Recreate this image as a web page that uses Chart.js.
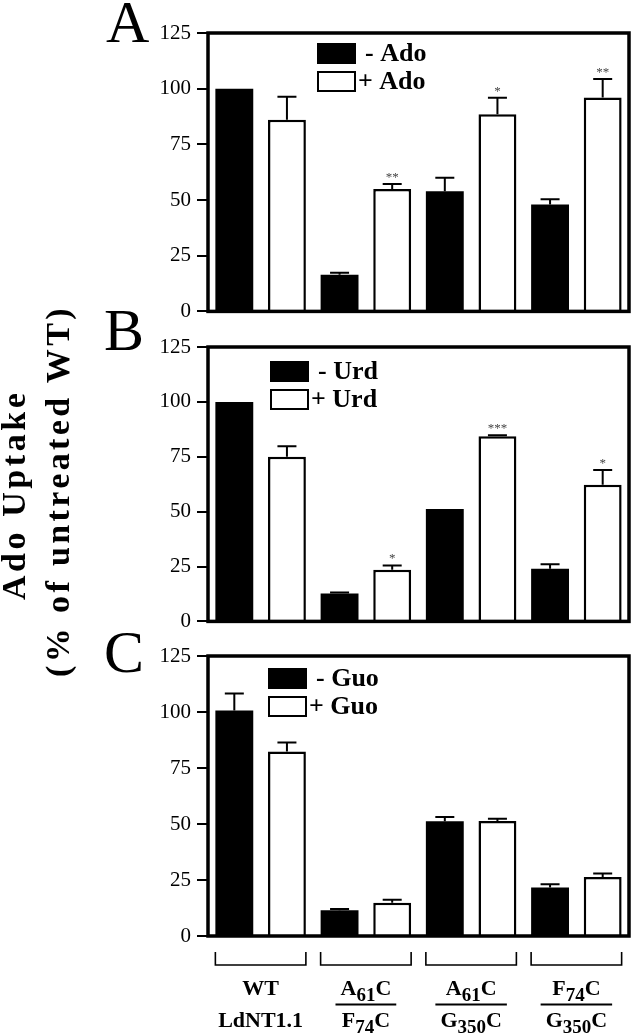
<!DOCTYPE html>
<html>
<head>
<meta charset="utf-8">
<script src="https://cdn.jsdelivr.net/npm/chart.js@4.4.0/dist/chart.umd.min.js"></script>
<style>
  html, body { margin: 0; padding: 0; background: #fff; }
  #page { position: relative; width: 633px; height: 1033px; overflow: hidden; }
  canvas { position: absolute; left: 0; }
  .ytitle {
    position: absolute; white-space: nowrap; line-height: 1; color: #000;
    font: bold 34px "Liberation Serif", "Times New Roman", serif;
    transform-origin: 0 0; transform: rotate(-90deg);
  }
</style>
</head>
<body>
<div id="page">
  <canvas id="chartA" width="633" height="330" style="top:0px"></canvas>
  <canvas id="chartB" width="633" height="335" style="top:305px"></canvas>
  <canvas id="chartC" width="633" height="413" style="top:620px"></canvas>
  <div class="ytitle" data-len="207" style="left:-5px; top:600px">Ado Uptake</div>
  <div class="ytitle" data-len="369" style="left:39px; top:677px">(% of untreated WT)</div>
</div>
<script>
// categories: "top|bottom", {..} = subscript
const groups = ['WT|LdNT1.1', 'A{61}C|F{74}C', 'A{61}C|G{350}C', 'F{74}C|G{350}C'];

// panel A - adenosine
const adoMinus = [100, 16.5, 54, 48];
const adoMinusErr = [0, 0.8, 6, 2.4];
const adoPlus = [86, 55, 88.5, 96];
const adoPlusErr = [10.4, 2.2, 7.4, 8.4];
const adoStars = ['', '**', '*', '**'];

// panel B - uridine
const urdMinus = [100, 12.7, 51.2, 24];
const urdMinusErr = [0, 0.5, 0, 2];
const urdPlus = [75, 23.5, 84.3, 62.3];
const urdPlusErr = [4.8, 2, 0.5, 6.7];
const urdStars = ['', '*', '***', '*'];

// panel C - guanosine
const guoMinus = [100.7, 11.5, 51.2, 21.6];
const guoMinusErr = [7.6, 0.6, 1.9, 1.5];
const guoPlus = [82.4, 14.8, 51.3, 26.3];
const guoPlusErr = [4, 1.4, 1, 1.6];
const guoStars = ['', '', '', ''];

const yTicks = [0, 25, 50, 75, 100, 125];

const SERIF = '"Liberation Serif", "Times New Roman", serif';

// stretch the rotated axis title to the length it has in the figure
document.querySelectorAll('.ytitle').forEach(el => {
  const n = el.textContent.length;
  const w = el.offsetWidth;
  el.style.letterSpacing = ((+el.dataset.len - w) / (n - 1)) + 'px';
});

const frame = {
  id: 'frame',
  afterDatasetsDraw(chart) {
    const { ctx, chartArea: a } = chart;
    ctx.save();
    ctx.strokeStyle = '#000';
    ctx.lineWidth = 3.5;
    ctx.strokeRect(a.left, a.top, a.right - a.left, a.bottom - a.top);
    ctx.restore();
  }
};

const errorBars = {
  id: 'errorBars',
  afterDatasetsDraw(chart) {
    const ctx = chart.ctx, y = chart.scales.y;
    ctx.save();
    chart.data.datasets.forEach((ds, i) => {
      chart.getDatasetMeta(i).data.forEach((bar, j) => {
        const e = ds.errors[j];
        const top = y.getPixelForValue(ds.data[j] + e);
        if (e > 0) {
          ctx.strokeStyle = '#000';
          ctx.lineWidth = 2;
          ctx.beginPath();
          ctx.moveTo(bar.x, bar.y);
          ctx.lineTo(bar.x, top);
          ctx.moveTo(bar.x - 9.5, top);
          ctx.lineTo(bar.x + 9.5, top);
          ctx.stroke();
        }
        const s = ds.stars && ds.stars[j];
        if (s) {
          ctx.fillStyle = '#444';
          ctx.font = '13px ' + SERIF;
          ctx.textAlign = 'center';
          ctx.textBaseline = 'alphabetic';
          ctx.fillText(s, bar.x, top - 3);
        }
      });
    });
    ctx.restore();
  }
};

const boxLegend = {
  id: 'boxLegend',
  afterDraw(chart, args, opts) {
    const { ctx, chartArea: a } = chart;
    ctx.save();
    chart.data.datasets.forEach((ds, i) => {
      const x = a.left + opts.x, y = a.top + opts.y + i * 28;
      ctx.fillStyle = ds.backgroundColor;
      ctx.fillRect(x, y, 39, 21);
      ctx.strokeStyle = '#000';
      ctx.lineWidth = 2;
      ctx.strokeRect(x + 1, y + 1, 37, 19);
      ctx.fillStyle = '#000';
      ctx.font = 'bold 26px ' + SERIF;
      ctx.textAlign = 'left';
      ctx.textBaseline = 'middle';
      ctx.fillText(ds.label, x + 39 + opts.gap[i], y + 11);
    });
    ctx.restore();
  }
};

const panelLetter = {
  id: 'panelLetter',
  afterDraw(chart, args, opts) {
    const ctx = chart.ctx;
    ctx.save();
    ctx.fillStyle = '#000';
    ctx.font = '60px ' + SERIF;
    ctx.textAlign = 'left';
    ctx.textBaseline = 'alphabetic';
    ctx.fillText(opts.text, opts.x, opts.y);
    ctx.restore();
  }
};

function drawRich(ctx, str, cx, base) {
  const parts = [];
  str.replace(/\{([^}]*)\}|([^{}]+)/g, (m, sub, txt) => {
    parts.push(sub !== undefined ? { t: sub, sub: true } : { t: txt, sub: false });
  });
  const fontOf = p => p.sub ? 'bold 19px ' + SERIF : 'bold 22px ' + SERIF;
  let w = 0;
  parts.forEach(p => { ctx.font = fontOf(p); p.w = ctx.measureText(p.t).width; w += p.w; });
  let x = cx - w / 2;
  parts.forEach(p => {
    ctx.font = fontOf(p);
    ctx.fillText(p.t, x, base + (p.sub ? 6 : 0));
    x += p.w;
  });
  return w;
}

const groupLabels = {
  id: 'groupLabels',
  afterDraw(chart, args, opts) {
    if (!opts.show) return;
    const { ctx, chartArea: a } = chart;
    const m0 = chart.getDatasetMeta(0), m1 = chart.getDatasetMeta(1);
    ctx.save();
    ctx.strokeStyle = '#000';
    ctx.fillStyle = '#000';
    ctx.textAlign = 'left';
    ctx.textBaseline = 'alphabetic';
    chart.data.labels.forEach((lab, i) => {
      const b0 = m0.data[i], b1 = m1.data[i];
      const l = b0.x - b0.width / 2, r = b1.x + b1.width / 2, cx = (l + r) / 2;
      ctx.lineWidth = 1.6;
      ctx.beginPath();
      ctx.moveTo(l, a.bottom + 16);
      ctx.lineTo(l, a.bottom + 29);
      ctx.lineTo(r, a.bottom + 29);
      ctx.lineTo(r, a.bottom + 16);
      ctx.stroke();
      const [top, bottom] = lab.split('|');
      const wt = drawRich(ctx, top, cx, a.bottom + 59);
      const wb = drawRich(ctx, bottom, cx, a.bottom + 91);
      if (top.indexOf('{') >= 0) {
        const hw = Math.max(wt, wb) / 2 + 5;
        ctx.lineWidth = 2;
        ctx.beginPath();
        ctx.moveTo(cx - hw, a.bottom + 68.5);
        ctx.lineTo(cx + hw, a.bottom + 68.5);
        ctx.stroke();
      }
    });
    ctx.restore();
  }
};

function makePanel(id, names, minus, minusErr, plus, plusErr, stars, cfg) {
  return new Chart(document.getElementById(id), {
    type: 'bar',
    data: {
      labels: groups,
      datasets: [
        { label: names[0], data: minus, errors: minusErr, stars: null,
          backgroundColor: '#000', borderColor: '#000', borderWidth: 0 },
        { label: names[1], data: plus, errors: plusErr, stars: stars,
          backgroundColor: '#fff', borderColor: '#000', borderWidth: 2.5 }
      ]
    },
    options: {
      responsive: false,
      animation: false,
      events: [],
      layout: { padding: cfg.padding },
      datasets: { bar: { categoryPercentage: 1.0, barPercentage: 0.72 } },
      scales: {
        x: { display: false, offset: true },
        y: {
          min: 0, max: 125,
          afterFit(s) { s.width = 60; },
          afterBuildTicks(s) { s.ticks = yTicks.map(v => ({ value: v })); },
          ticks: { padding: 6, color: '#000', font: { family: SERIF, size: 21 } },
          grid: { drawOnChartArea: false, drawTicks: true, tickLength: 11, color: '#000', lineWidth: 2 },
          border: { display: false }
        }
      },
      plugins: {
        legend: { display: false },
        tooltip: { enabled: false },
        boxLegend: cfg.legend,
        panelLetter: cfg.letter,
        groupLabels: { show: !!cfg.groups }
      }
    },
    plugins: [frame, errorBars, boxLegend, panelLetter, groupLabels]
  });
}

makePanel('chartA', ['- Ado', '+ Ado'], adoMinus, adoMinusErr, adoPlus, adoPlusErr, adoStars, {
  padding: { left: 148, right: 4, top: 33, bottom: 17 },
  legend: { x: 109, y: 10, gap: [9, 2] },
  letter: { text: 'A', x: 106, y: 42 }
});

makePanel('chartB', ['- Urd', '+ Urd'], urdMinus, urdMinusErr, urdPlus, urdPlusErr, urdStars, {
  padding: { left: 148, right: 4, top: 42, bottom: 14 },
  legend: { x: 62, y: 14, gap: [9, 2] },
  letter: { text: 'B', x: 104, y: 45 }
});

makePanel('chartC', ['- Guo', '+ Guo'], guoMinus, guoMinusErr, guoPlus, guoPlusErr, guoStars, {
  padding: { left: 148, right: 4, top: 36, bottom: 97 },
  legend: { x: 60, y: 12, gap: [9, 2] },
  letter: { text: 'C', x: 104, y: 52 },
  groups: true
});
</script>
</body>
</html>
